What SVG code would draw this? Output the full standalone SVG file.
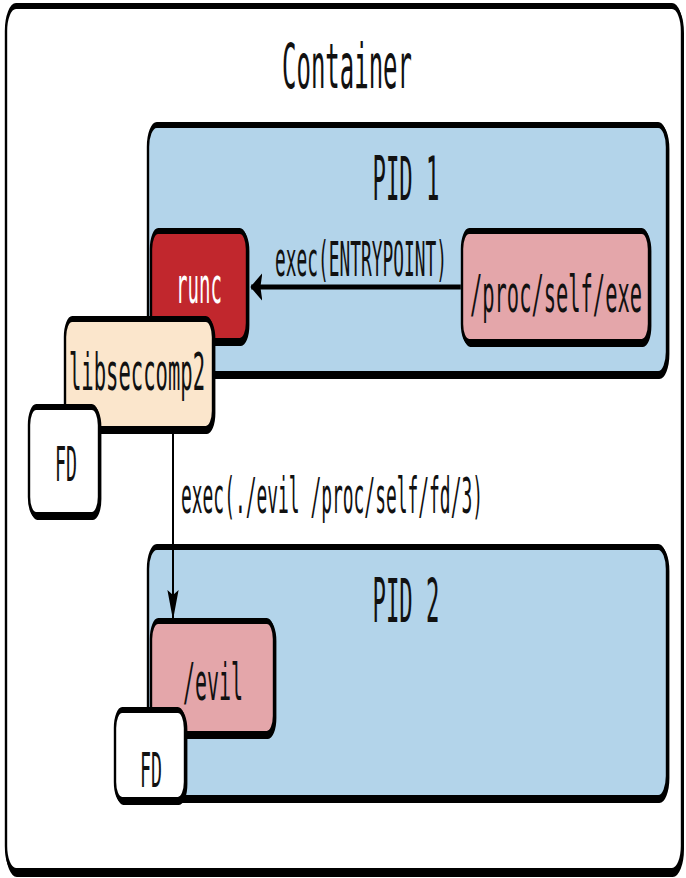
<svg xmlns="http://www.w3.org/2000/svg" width="686" height="878" viewBox="0 0 686 878">
  <style>
    .box { stroke: #000; stroke-width: 6; }
    .sh { fill: #000; stroke: #000; stroke-width: 6; }
    .t { font-family: "DejaVu Sans Mono", "Liberation Mono", monospace; fill: #111; text-anchor: middle; }
    .edge { stroke: #000; stroke-width: 5; fill: none; }
  </style>
  <defs>
    <marker id="ah" markerUnits="userSpaceOnUse" markerWidth="32" markerHeight="30" viewBox="0 0 32 30" refX="28" refY="14" orient="auto">
      <path d="M0,0 L30,14 L0,28 L5,14 z" fill="#000"/>
    </marker>
  </defs>
  <rect width="686" height="878" fill="#fff"/>
  <g transform="scale(0.4,1)">
    <g id="container">
      <rect class="sh" x="17" y="8" width="1690" height="866" rx="25" ry="25"/>
      <rect class="box" x="15" y="6" width="1690" height="865" rx="25" ry="25" fill="#fff"/>
      <text class="t" x="867.5" y="88" font-size="62" textLength="325" lengthAdjust="spacingAndGlyphs">Container</text>
    </g>
    <g id="pid1">
      <rect class="sh" x="373" y="127" width="1297.5" height="249" rx="22" ry="22"/>
      <rect class="box" x="370" y="125" width="1297.5" height="249" rx="22" ry="22" fill="#b3d4ea"/>
      <text class="t" x="1015" y="200" font-size="60" textLength="167.5" lengthAdjust="spacingAndGlyphs">PID 1</text>
    </g>
    <g id="runc">
      <rect class="sh" x="380.5" y="233" width="240" height="110" rx="18" ry="18"/>
      <rect class="box" x="377.5" y="231" width="240" height="110" rx="18" ry="18" fill="#c1272d"/>
      <text class="t" x="497.5" y="303" font-size="50" textLength="115" lengthAdjust="spacingAndGlyphs" style="fill:#fff">runc</text>
    </g>
    <g id="procselfexe">
      <rect class="sh" x="1158" y="233" width="467.5" height="111" rx="18" ry="18"/>
      <rect class="box" x="1155" y="231" width="467.5" height="111" rx="18" ry="18" fill="#e4a6aa"/>
      <text class="t" x="1390" y="312" font-size="52" textLength="430" lengthAdjust="spacingAndGlyphs">/proc/self/exe</text>
    </g>
    <g id="libseccomp2">
      <rect class="sh" x="165.5" y="321" width="370" height="110" rx="18" ry="18"/>
      <rect class="box" x="162.5" y="319" width="370" height="110" rx="18" ry="18" fill="#fbe6cc"/>
      <text class="t" x="342.5" y="390" font-size="52" textLength="340" lengthAdjust="spacingAndGlyphs">libseccomp2</text>
    </g>
    <g id="fd1">
      <rect class="sh" x="75.5" y="409" width="175" height="108" rx="18" ry="18"/>
      <rect class="box" x="72.5" y="407" width="175" height="108" rx="18" ry="18" fill="#fff"/>
      <text class="t" x="165" y="481" font-size="48" textLength="55" lengthAdjust="spacingAndGlyphs">FD</text>
    </g>
    <g id="pid2">
      <rect class="sh" x="373" y="549" width="1297.5" height="251" rx="22" ry="22"/>
      <rect class="box" x="370" y="547" width="1297.5" height="251" rx="22" ry="22" fill="#b3d4ea"/>
      <text class="t" x="1015" y="622" font-size="60" textLength="167.5" lengthAdjust="spacingAndGlyphs">PID 2</text>
    </g>
    <g id="evil">
      <rect class="sh" x="380.5" y="623" width="307.5" height="113" rx="18" ry="18"/>
      <rect class="box" x="377.5" y="621" width="307.5" height="113" rx="18" ry="18" fill="#e4a6aa"/>
      <text class="t" x="532.5" y="700" font-size="52" textLength="150" lengthAdjust="spacingAndGlyphs">/evil</text>
    </g>
    <g id="fd2">
      <rect class="sh" x="290.5" y="712" width="175" height="90" rx="18" ry="18"/>
      <rect class="box" x="287.5" y="710" width="175" height="90" rx="18" ry="18" fill="#fff"/>
      <text class="t" x="377.5" y="787" font-size="48" textLength="55" lengthAdjust="spacingAndGlyphs">FD</text>
    </g>
    <g id="connectors">
      <line class="edge" x1="1152" y1="287" x2="628" y2="287" marker-end="url(#ah)"/>
      <text class="t" x="902.5" y="276" font-size="48" textLength="430" lengthAdjust="spacingAndGlyphs">exec(ENTRYPOINT)</text>
      <line class="edge" x1="432.5" y1="430" x2="432.5" y2="618" marker-end="url(#ah)"/>
      <text class="t" x="830" y="513" font-size="50" textLength="755" lengthAdjust="spacingAndGlyphs">exec(./evil /proc/self/fd/3)</text>
    </g>
  </g>
</svg>
